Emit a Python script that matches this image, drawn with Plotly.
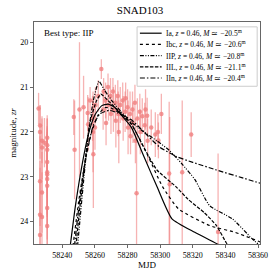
import plotly.graph_objects as go

# ---------------- data ----------------
obs_mjd = [58225.4,
           58226.3, 58226.3, 58227.5, 58227.5, 58226.3, 58227.5, 58226.3, 58227.5, 58226.3,
           58229.0,
           58230.7, 58230.7, 58230.7, 58230.7, 58230.7, 58230.7, 58230.7, 58230.7, 58230.7, 58230.7,
           58247.0, 58247.5,
           58250.5, 58253.0, 58255.5, 58255.8, 58257.0, 58258.5, 58258.8, 58259.0, 58260.0, 58260.3,
           58262.0, 58263.9, 58265.0, 58265.3, 58266.5, 58266.8, 58268.0, 58268.3, 58269.5, 58269.8,
           58271.0, 58271.3, 58272.5, 58272.8, 58274.0, 58274.3, 58274.6, 58275.5, 58277.0, 58277.3,
           58278.5, 58278.8, 58280.0, 58280.3, 58281.5, 58281.8, 58283.0, 58283.3, 58284.5, 58284.8,
           58285.5, 58286.0, 58287.5, 58287.8, 58289.0, 58290.5, 58291.0, 58292.0, 58292.3,
           58294.5, 58297.0, 58298.6, 58298.9, 58300.7, 58305.5, 58305.8, 58313.5, 58319.0, 58335.5]
obs_mag = [21.48,
           21.86, 22.00, 22.20, 22.35, 23.10, 23.35, 23.85, 23.90, 24.30,
           22.24,
           22.13, 22.30, 22.40, 22.67, 22.90, 22.95, 23.05, 23.20, 23.70, 24.10,
           21.67, 22.40,
           21.50, 21.45, 21.58, 21.83, 21.30, 21.70, 22.00, 22.50, 21.90, 21.40,
           21.20, 20.60, 21.50, 21.10, 21.30, 21.80, 21.00, 21.40, 21.20, 21.60,
           21.10, 21.50, 21.35, 21.75, 21.20, 21.60, 22.00, 21.40, 21.30, 21.70,
           21.55, 21.25, 21.45, 21.90, 21.60, 22.10, 21.50, 21.80, 21.35, 22.20,
           23.37, 21.70, 21.55, 22.00, 21.65, 21.85, 21.50, 21.64, 22.20,
           21.90, 22.06, 22.00, 22.19, 21.60, 22.93, 23.17, 22.90, 22.06, 24.23]
obs_err = [0.35,
           0.45, 0.60, 0.50, 0.70, 1.00, 0.90, 1.20, 1.00, 1.50,
           0.55,
           0.50, 0.60, 0.70, 0.80, 1.00, 0.90, 1.10, 1.20, 1.30, 1.50,
           0.40, 1.10,
           1.50, 0.70, 0.40, 0.60, 0.30, 0.50, 0.90, 1.20, 0.50, 0.40,
           0.35, 0.22, 0.45, 0.30, 0.40, 0.50, 0.30, 0.35, 0.40, 0.45,
           0.30, 0.50, 0.40, 0.60, 0.35, 0.50, 0.70, 0.40, 0.40, 0.50,
           0.45, 0.35, 0.40, 0.60, 0.50, 0.40, 0.40, 0.45, 0.40, 0.50,
           1.20, 0.45, 0.40, 0.50, 0.40, 0.50, 0.45, 0.40, 0.50,
           0.40, 0.50, 0.40, 0.40, 0.45, 1.60, 1.50, 1.60, 0.50, 1.75]

ia_mjd  = [58244.8, 58248, 58252, 58256, 58260, 58264, 58268, 58272, 58276, 58282.3, 58290, 58298, 58307.2, 58321.2, 58336.2, 58340]
ia_mag  = [24.55, 23.65, 22.75, 22.05, 21.62, 21.42, 21.38, 21.45, 21.62, 21.90, 22.55, 23.22, 23.94, 24.24, 24.52, 24.60]
ibc_mjd = [58246.5, 58250, 58254, 58258, 58262, 58266, 58270, 58275, 58282.3, 58292, 58301.4, 58311.3, 58330.4, 58346, 58361.7]
ibc_mag = [24.55, 23.55, 22.65, 22.00, 21.62, 21.46, 21.47, 21.58, 21.83, 22.50, 23.22, 23.72, 24.09, 24.24, 24.46]
iip_mjd = [58249.3, 58253, 58256.2, 58259, 58262.4, 58266, 58270.7, 58276, 58282.3, 58290, 58298, 58305.5, 58313, 58321.2, 58330.4, 58344.3, 58356, 58360]
iip_mag = [24.55, 23.10, 21.95, 21.30, 20.87, 21.08, 21.32, 21.55, 21.78, 22.00, 22.20, 22.41, 22.70, 23.06, 23.65, 23.94, 24.37, 24.50]
iil_mjd = [58248.3, 58252, 58257.2, 58261, 58263.6, 58268, 58274.6, 58282.3, 58290, 58298, 58309.6, 58317, 58327, 58334.5, 58340.3, 58343]
iil_mag = [24.55, 23.25, 21.75, 21.30, 21.16, 21.30, 21.54, 21.82, 22.35, 22.85, 23.22, 23.50, 23.80, 24.09, 24.46, 24.60]
iin_mjd = [58247.4, 58251, 58255, 58259, 58263, 58268.8, 58274, 58282.3, 58290, 58299.7, 58310, 58320, 58334.5, 58350, 58361.7]
iin_mag = [24.55, 23.40, 22.45, 21.85, 21.60, 21.52, 21.58, 21.73, 22.00, 22.34, 22.55, 22.68, 22.85, 23.02, 23.15]

legend_labels = [
    "Ia, <i>z</i> = 0.46, <i>M</i> ≃ −20.5<sup>m</sup>",
    "Ibc, <i>z</i> = 0.46, <i>M</i> ≃ −20.6<sup>m</sup>",
    "IIP, <i>z</i> = 0.46, <i>M</i> ≃ −20.8<sup>m</sup>",
    "IIL, <i>z</i> = 0.46, <i>M</i> ≃ −21.1<sup>m</sup>",
    "IIn, <i>z</i> = 0.46, <i>M</i> ≃ −20.4<sup>m</sup>",
]
dashes = ["solid", "dot", "4px,1.5px,1px,1.5px,1px,1.5px", "3.5px,1.5px", "5px,2px,1.5px,2px"]
x_ticks = [58240, 58260, 58280, 58300, 58320, 58340, 58360]
y_ticks = [20, 21, 22, 23, 24]

FONT = "Liberation Serif"
RED = "rgba(240,128,128,0.8)"

fig = go.Figure()
fig.add_trace(go.Scatter(
    x=obs_mjd, y=obs_mag, mode="markers",
    marker=dict(color=RED, size=4.5),
    error_y=dict(type="data", array=obs_err, color="rgba(240,128,128,0.6)", thickness=1.3, width=0),
    showlegend=False, hoverinfo="skip"))

curves = [(ia_mjd, ia_mag), (ibc_mjd, ibc_mag), (iip_mjd, iip_mag), (iil_mjd, iil_mag), (iin_mjd, iin_mag)]
for (cx, cy), d in zip(curves, dashes):
    fig.add_trace(go.Scatter(x=cx, y=cy, mode="lines",
                             line=dict(color="black", width=1.2, dash=d, shape="spline", smoothing=0.5),
                             showlegend=False, hoverinfo="skip"))

# custom compact legend (positioned in paper coords)
L, T, W, H = 27, 22, 239, 228
def px(x): return (x - L) / W
def py(y): return 1 - (y - T) / H

fig.add_shape(type="rect", xref="paper", yref="paper", x0=px(136), x1=px(263), y0=py(88), y1=py(27),
              line=dict(color="#cccccc", width=1), fillcolor="rgba(255,255,255,0.85)", layer="above")
for i, (lab, d) in enumerate(zip(legend_labels, dashes)):
    yy = 33.5 + 11.5 * i
    fig.add_shape(type="line", xref="paper", yref="paper", x0=px(139), x1=px(162), y0=py(yy), y1=py(yy),
                  line=dict(color="black", width=1.2, dash=d), layer="above")
    fig.add_annotation(xref="paper", yref="paper", x=px(165), y=py(yy), text=lab, showarrow=False,
                       xanchor="left", yanchor="middle", font=dict(family=FONT, size=7.5, color="black"))

fig.add_annotation(xref="paper", yref="paper", x=px(35), y=py(33), text="Best type: IIP", showarrow=False,
                   xanchor="left", yanchor="middle", font=dict(family=FONT, size=9, color="black"))

fig.update_layout(
    width=280, height=280, margin=dict(l=L, r=280 - L - W, t=T, b=280 - T - H),
    paper_bgcolor="white", plot_bgcolor="white",
    title=dict(text="SNAD103", x=0.5, xanchor="center", y=1 - 10 / 280, yanchor="middle",
               font=dict(family=FONT, size=11, color="black")),
    font=dict(family=FONT, size=8, color="black"),
    hovermode=False,
)
fig.update_xaxes(range=[58222.6, 58361.2], tickvals=x_ticks, tickformat="d", ticks="outside", ticklen=3, tickwidth=0.8,
                 ticklabeloverflow="allow",
                 showline=True, linecolor="#666", linewidth=1.2, mirror=True, showgrid=False, zeroline=False,
                 title=dict(text="MJD", standoff=2, font=dict(size=9)), tickfont=dict(size=8))
fig.update_yaxes(range=[24.5, 19.55], tickvals=y_ticks, ticks="outside", ticklen=3, tickwidth=0.8,
                 showline=True, linecolor="#666", linewidth=1.2, mirror=True, showgrid=False, zeroline=False,
                 title=dict(text="magnitude, <i>zr</i>", standoff=2, font=dict(size=9)), tickfont=dict(size=8))

fig.write_html("out.html", config={"displayModeBar": False, "staticPlot": True},
               post_script="document.body.style.margin='0';document.body.style.overflow='hidden';")
